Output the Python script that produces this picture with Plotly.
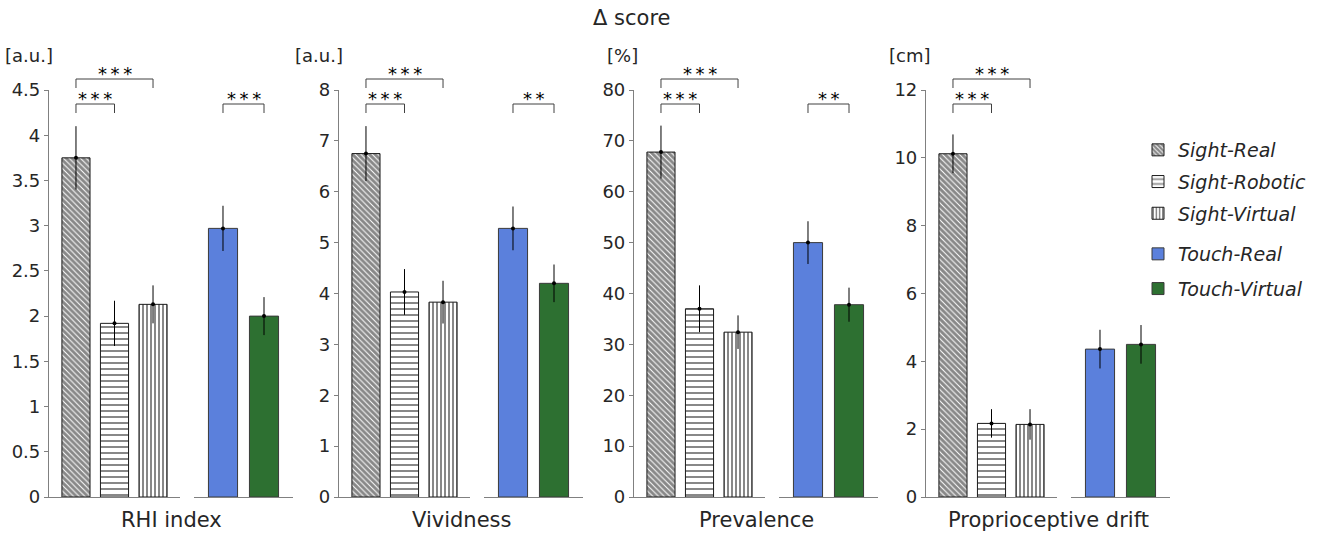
import plotly.graph_objects as go

W, H = 1317, 533

# ---------------- data ----------------
panels = ["RHI index", "Vividness", "Prevalence", "Proprioceptive drift"]
units = ["[a.u.]", "[a.u.]", "[%]", "[cm]"]
y_max = [4.5, 8, 80, 12]
y_dtick = [0.5, 1, 10, 2]

sight_conds = ["Sight-Real", "Sight-Robotic", "Sight-Virtual"]
touch_conds = ["Touch-Real", "Touch-Virtual"]

sight_real = [3.75, 6.75, 67.8, 10.12]
sight_real_err = [0.35, 0.54, 5.2, 0.57]
sight_robotic = [1.92, 4.03, 37.0, 2.17]
sight_robotic_err = [0.25, 0.45, 4.6, 0.42]
sight_virtual = [2.13, 3.83, 32.4, 2.14]
sight_virtual_err = [0.21, 0.42, 3.3, 0.45]
touch_real = [2.97, 5.28, 50.0, 4.36]
touch_real_err = [0.25, 0.43, 4.2, 0.57]
touch_virtual = [2.00, 4.20, 37.8, 4.50]
touch_virtual_err = [0.21, 0.37, 3.35, 0.57]

sig_real_vs_robotic = ["***", "***", "***", "***"]
sig_real_vs_virtual = ["***", "***", "***", "***"]
sig_touch = ["***", "**", "**", ""]

# ---------------- style ----------------
FONT = "DejaVu Sans"
TXT = "#262626"
AXC = "#808080"
axis_left_px = [49, 339, 634, 926]
y_top_px, y_bot_px = 90, 497

styles = {
    "Sight-Real": dict(color="white", pattern=dict(shape="\\", size=4, solidity=0.75, fgcolor="#111111", bgcolor="white")),
    "Sight-Robotic": dict(color="white", pattern=dict(shape="-", size=6, solidity=0.34, fgcolor="#111111", bgcolor="white")),
    "Sight-Virtual": dict(color="white", pattern=dict(shape="|", size=4, solidity=0.5, fgcolor="#111111", bgcolor="white")),
    "Touch-Real": dict(color="#5b80dc", pattern=None),
    "Touch-Virtual": dict(color="#2d7031", pattern=None),
}

vals = {
    "Sight-Real": (sight_real, sight_real_err),
    "Sight-Robotic": (sight_robotic, sight_robotic_err),
    "Sight-Virtual": (sight_virtual, sight_virtual_err),
    "Touch-Real": (touch_real, touch_real_err),
    "Touch-Virtual": (touch_virtual, touch_virtual_err),
}

fig = go.Figure()
ydom = [(H - y_bot_px) / H, (H - y_top_px) / H]


def xname(n):
    return "x" if n == 1 else f"x{n}"


def yname(n):
    return "y" if n == 1 else f"y{n}"


def axkey(prefix, n):
    return prefix + "axis" if n == 1 else f"{prefix}axis{n}"


layout_axes = {}
shapes = []
annotations = []

for i in range(4):
    A = axis_left_px[i]
    xs, xt, yi = 2 * i + 1, 2 * i + 2, i + 1
    groups = [(xs, sight_conds, A, A + 131, 0.7, 0.73, "legend"),
              (xt, touch_conds, A + 145, A + 244, 0.707, 0.71, "legend2")]
    for xn, conds, p0, p1, pad, bw, leg in groups:
        layout_axes[axkey("x", xn)] = dict(
            domain=[p0 / W, p1 / W], anchor=yname(yi), type="category",
            categoryorder="array", categoryarray=conds,
            range=[-pad, len(conds) - 1 + pad], automargin=False,
            showline=True, linecolor=AXC, linewidth=1.2,
            showticklabels=False, ticks="", showgrid=False, zeroline=False)
        for c in conds:
            v, e = vals[c]
            st = styles[c]
            marker = dict(color=st["color"],
                          line=dict(color="#1a1a1a" if st["pattern"] else "#3a3a3a", width=1))
            if st["pattern"]:
                marker["pattern"] = st["pattern"]
            fig.add_trace(go.Bar(
                x=[c], y=[v[i]], width=bw, name=c, marker=marker,
                xaxis=xname(xn), yaxis=yname(yi), legend=leg,
                legendgroup=c, showlegend=(i == 0), hoverinfo="x+y"))
        fig.add_trace(go.Scatter(
            x=conds, y=[vals[c][0][i] for c in conds], mode="markers",
            marker=dict(color="black", size=4),
            error_y=dict(type="data", array=[vals[c][1][i] for c in conds],
                         color="black", thickness=1, width=0),
            xaxis=xname(xn), yaxis=yname(yi), showlegend=False))

    layout_axes[axkey("y", yi)] = dict(
        domain=ydom, anchor=xname(xs), range=[0, y_max[i]], tick0=0, dtick=y_dtick[i],
        ticks="outside", ticklen=4, tickcolor=AXC, showline=True, linecolor=AXC,
        linewidth=1.2, showgrid=False, zeroline=False, automargin=False,
        tickfont=dict(family=FONT, size=18, color=TXT))

    # significance brackets
    lo, lo_leg = (H - 104) / H, (H - 113) / H
    hi, hi_leg = (H - 79) / H, (H - 88) / H
    brs = [(xs, sight_conds, "Sight-Real", "Sight-Robotic", sig_real_vs_robotic[i], lo, lo_leg),
           (xs, sight_conds, "Sight-Real", "Sight-Virtual", sig_real_vs_virtual[i], hi, hi_leg),
           (xt, touch_conds, "Touch-Real", "Touch-Virtual", sig_touch[i], lo, lo_leg)]
    for xn, conds, a, b, lab, yb, yl in brs:
        if not lab:
            continue
        ia, ib = conds.index(a), conds.index(b)
        ln = dict(color="#404040", width=1)
        for (x0, x1, y0, y1) in [(ia, ib, yb, yb), (ia, ia, yb, yl), (ib, ib, yb, yl)]:
            shapes.append(dict(type="line", xref=xname(xn), yref="paper",
                               x0=x0, x1=x1, y0=y0, y1=y1, line=ln))
        annotations.append(dict(text="\u2009".join(lab), x=(ia + ib) / 2, xref=xname(xn),
                                y=yb - 7 / H, yref="paper", yanchor="bottom", xanchor="center",
                                showarrow=False, font=dict(family=FONT, size=18, color="black")))

    annotations.append(dict(text=units[i], x=(A + 6) / W, xref="paper", xanchor="right",
                            y=(H - 56) / H, yref="paper", yanchor="middle", showarrow=False,
                            font=dict(family=FONT, size=18, color=TXT)))
    annotations.append(dict(text=panels[i], x=(A + 122) / W, xref="paper", xanchor="center",
                            y=(H - 520) / H, yref="paper", yanchor="middle", showarrow=False,
                            font=dict(family=FONT, size=21, color=TXT)))

annotations.append(dict(text="Δ score", x=631 / W, xref="paper", xanchor="center",
                        y=(H - 18) / H, yref="paper", yanchor="middle", showarrow=False,
                        font=dict(family=FONT, size=21, color=TXT)))

legend_font = dict(family=FONT, size=19, color=TXT, style="italic")
fig.update_layout(
    width=W, height=H, margin=dict(l=0, r=0, t=0, b=0, pad=0, autoexpand=False),
    paper_bgcolor="white", plot_bgcolor="white",
    barmode="overlay", showlegend=True,
    legend=dict(x=1138 / W, y=(H - 131) / H, xanchor="left", yanchor="top",
                font=legend_font, traceorder="grouped", tracegroupgap=4,
                bgcolor="rgba(0,0,0,0)", borderwidth=0),
    legend2=dict(x=1138 / W, y=(H - 235) / H, xanchor="left", yanchor="top",
                 font=legend_font, traceorder="grouped", tracegroupgap=7,
                 bgcolor="rgba(0,0,0,0)", borderwidth=0),
    shapes=shapes, annotations=annotations,
    **layout_axes,
)

fig.write_html("out.html", config={"displayModeBar": False},
               post_script="document.body.style.margin='0';")
